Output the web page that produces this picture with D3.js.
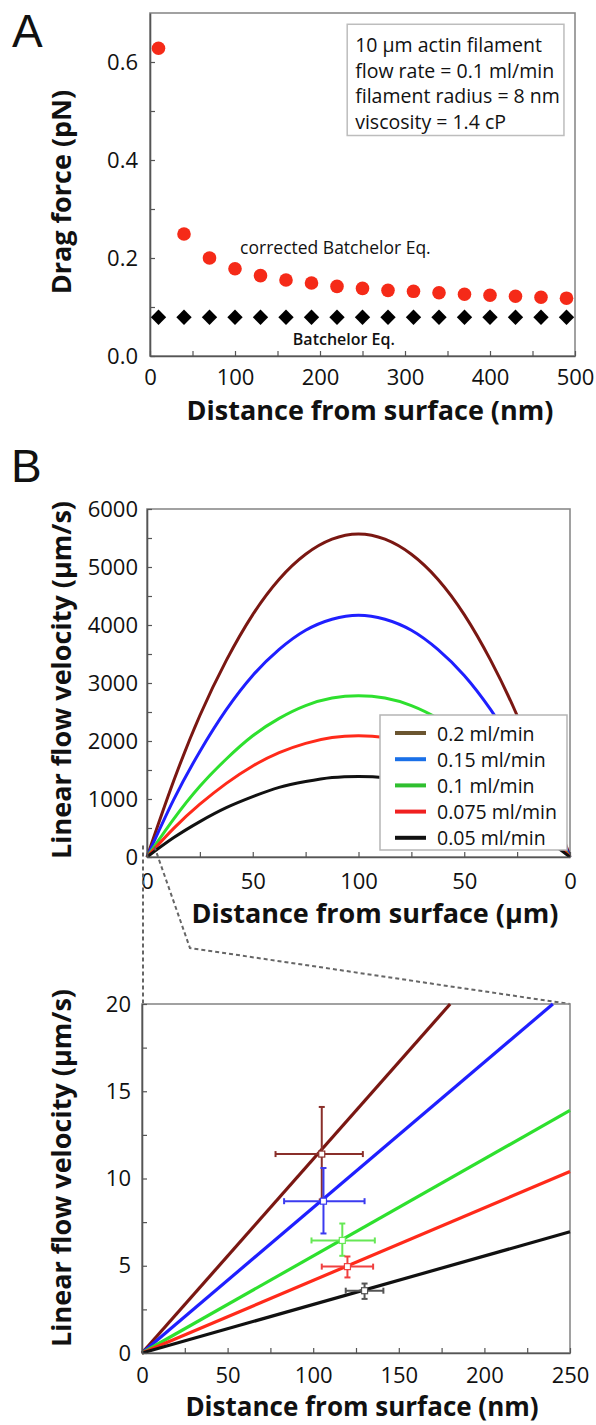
<!DOCTYPE html>
<html>
<head>
<meta charset="utf-8">
<script src="https://cdn.jsdelivr.net/npm/d3@7"></script>
<style>
  body { margin: 0; background: #fff; }
  svg text { font-family: "Open Sans", "Noto Sans", sans-serif; fill: #111; }
</style>
</head>
<body>
<div id="chart"></div>
<script>
// ---- Panel A data : drag force vs distance
const distA = [10, 40, 70, 100, 130, 160, 190, 220, 250, 280, 310, 340, 370, 400, 430, 460, 490];
const dragCorrected = [0.628, 0.249, 0.200, 0.178, 0.164, 0.155, 0.149, 0.142, 0.138, 0.134, 0.132, 0.129, 0.126, 0.124, 0.122, 0.120, 0.118];
const dragBatchelor = [0.079, 0.079, 0.079, 0.079, 0.079, 0.079, 0.079, 0.079, 0.079, 0.079, 0.079, 0.079, 0.079, 0.079, 0.079, 0.079, 0.079];
const infoLines = ["10 µm actin filament", "flow rate = 0.1 ml/min", "filament radius = 8 nm", "viscosity = 1.4 cP"];

// ---- Panel B (top) : velocity profiles across the channel
const flowLabels = ["0.2 ml/min", "0.15 ml/min", "0.1 ml/min", "0.075 ml/min", "0.05 ml/min"];
const channelPos = [0, 12.5, 25, 37.5, 50, 62.5, 75, 87.5, 100, 112.5, 125, 137.5, 150, 162.5, 175, 187.5, 200];
const profiles = [
  [0, 1300, 2440, 3390, 4180, 4790, 5220, 5480, 5570, 5480, 5220, 4790, 4180, 3390, 2440, 1300, 0],
  [0, 980, 1820, 2540, 3130, 3580, 3910, 4100, 4170, 4100, 3910, 3580, 3130, 2540, 1820, 980, 0],
  [0, 650, 1220, 1690, 2090, 2390, 2610, 2740, 2780, 2740, 2610, 2390, 2090, 1690, 1220, 650, 0],
  [0, 490, 910, 1270, 1570, 1800, 1960, 2060, 2090, 2060, 1960, 1800, 1570, 1270, 910, 490, 0],
  [0, 330, 610, 850, 1040, 1200, 1300, 1370, 1390, 1370, 1300, 1200, 1040, 850, 610, 330, 0]
];
const channelTicks = [0, 50, 100, 150, 200];
const channelTickLabels = ["0", "50", "100", "50", "0"];

// ---- Panel B (bottom) : near-wall zoom, lines and measured points
const nearX = [[0, 180], [0, 240], [0, 250], [0, 250], [0, 250]];
const nearV = [[0, 20], [0, 20], [0, 13.9], [0, 10.4], [0, 6.95]];
const measX = [105, 106, 117, 120, 130];
const measV = [11.4, 8.7, 6.45, 4.95, 3.57];
const measXlo = [78, 83, 99, 105, 119];
const measXhi = [129, 130, 136, 135, 141];
const measVlo = [8.8, 6.85, 5.57, 4.33, 3.1];
const measVhi = [14.1, 10.6, 7.42, 5.53, 3.98];

const lineColors = ["#7a1712", "#1f1fff", "#2ee02e", "#ff2a1a", "#111111"];
const legendColors = ["#6b5530", "#1a70e8", "#2fbf2f", "#f02020", "#111111"];
const barColors = ["#8a2f2a", "#3b3bf0", "#66e855", "#f04040", "#555555"];

const W = 596, H = 1425;
const svg = d3.select("#chart").append("svg")
  .attr("width", W).attr("height", H);

const axisColor = "#555";
const frameColor = "#8a8a8a";

function styleAxis(g, fontSize) {
  g.attr("font-family", null);
  g.select(".domain").attr("stroke", axisColor).attr("stroke-width", 1.6);
  g.selectAll(".tick line").attr("stroke", axisColor).attr("stroke-width", 1.2);
  g.selectAll(".tick text").style("font-size", fontSize + "px").attr("fill", "#111");
}

function frame(x, y) {
  svg.append("rect")
    .attr("x", x.range()[0]).attr("y", y.range()[1])
    .attr("width", x.range()[1] - x.range()[0])
    .attr("height", y.range()[0] - y.range()[1])
    .attr("fill", "none").attr("stroke", frameColor).attr("stroke-width", 1.6);
}

function yTitle(text, cx, cy) {
  svg.append("text")
    .attr("transform", `translate(${cx},${cy}) rotate(-90)`)
    .attr("text-anchor", "middle")
    .attr("dominant-baseline", "central")
    .style("font-size", "27px").style("font-weight", 700)
    .text(text);
}
function xTitle(text, cx, cy, size) {
  svg.append("text")
    .attr("x", cx).attr("y", cy)
    .attr("text-anchor", "middle")
    .attr("dominant-baseline", "central")
    .style("font-size", (size || 27) + "px").style("font-weight", 700)
    .text(text);
}

// ================= Panel A =================
const xA = d3.scaleLinear().domain([0, 500]).range([150, 575]);
const yA = d3.scaleLinear().domain([0, 0.7]).range([356, 13]);

frame(xA, yA);

svg.append("g")
  .attr("transform", `translate(0,${yA(0)})`)
  .call(d3.axisBottom(xA).tickValues(d3.range(0, 501, 50))
    .tickFormat(d => d % 100 === 0 ? d : "")
    .tickSize(-5).tickSizeOuter(0).tickPadding(13))
  .call(g => styleAxis(g, 22));

svg.append("g")
  .attr("transform", `translate(${xA(0)},0)`)
  .call(d3.axisLeft(yA).tickValues([0, 0.1, 0.2, 0.3, 0.4, 0.5, 0.6])
    .tickFormat(d => Math.round(d * 10) % 2 === 0 ? d3.format(".1f")(d) : "")
    .tickSize(-5).tickSizeOuter(0).tickPadding(12))
  .call(g => styleAxis(g, 22));

// info box
const infoX = xA(232), infoY = yA(0.677);
svg.append("rect")
  .attr("x", infoX).attr("y", infoY)
  .attr("width", xA(487) - infoX).attr("height", yA(0.45) - infoY)
  .attr("fill", "#fff").attr("stroke", "#bdbdbd").attr("stroke-width", 1.5);
svg.append("g").selectAll("text").data(infoLines).join("text")
  .attr("x", infoX + 8)
  .attr("y", (d, i) => infoY + 20 + i * 25.8)
  .attr("dominant-baseline", "central")
  .style("font-size", "19.5px")
  .text(d => d);

// Batchelor diamonds
svg.append("g").selectAll("path").data(distA).join("path")
  .attr("transform", (d, i) => `translate(${xA(d)},${yA(dragBatchelor[i])})`)
  .attr("d", d3.symbol(d3.symbolDiamond2, 150))
  .attr("fill", "#000");

// corrected points
svg.append("g").selectAll("circle").data(distA).join("circle")
  .attr("cx", d => xA(d))
  .attr("cy", (d, i) => yA(dragCorrected[i]))
  .attr("r", 6.8)
  .attr("fill", "#f52a18");

svg.append("text")
  .attr("x", xA(106)).attr("y", yA(0.223))
  .attr("dominant-baseline", "central")
  .style("font-size", "17.5px")
  .text("corrected Batchelor Eq.");
svg.append("text")
  .attr("x", xA(168)).attr("y", yA(0.034))
  .attr("dominant-baseline", "central")
  .style("font-size", "16px")
  .style("font-weight", 600).attr("fill", "#222")
  .text("Batchelor Eq.");

yTitle("Drag force (pN)", 60, 192);
xTitle("Distance from surface (nm)", 370, 409);

svg.append("text").attr("x", 12).attr("y", 47)
  .style("font-family", "'Liberation Sans', Arial, sans-serif")
  .style("font-size", "46px").text("A");

// ================= Panel B top =================
const xB = d3.scaleLinear().domain([0, 200]).range([147, 570]);
const yB = d3.scaleLinear().domain([0, 6000]).range([857, 509]);

frame(xB, yB);

const profileLine = d3.line()
  .x((d, i) => xB(channelPos[i]))
  .y(d => yB(d))
  .curve(d3.curveNatural);

svg.append("g").selectAll("path").data(profiles).join("path")
  .attr("d", profileLine)
  .attr("fill", "none")
  .attr("stroke", (d, i) => lineColors[i])
  .attr("stroke-width", 3);

svg.append("g")
  .attr("transform", `translate(0,${yB(0)})`)
  .call(d3.axisBottom(xB).tickValues(d3.range(0, 201, 25))
    .tickFormat(d => {
      const k = channelTicks.indexOf(d);
      return k >= 0 ? channelTickLabels[k] : "";
    })
    .tickSize(-5).tickSizeOuter(0).tickPadding(16))
  .call(g => styleAxis(g, 22));

svg.append("g")
  .attr("transform", `translate(${xB(0)},0)`)
  .call(d3.axisLeft(yB).tickValues(d3.range(0, 6001, 500))
    .tickFormat(d => d % 1000 === 0 ? d : "")
    .tickSize(-5).tickSizeOuter(0).tickPadding(9))
  .call(g => styleAxis(g, 22));

// legend
const legX = 380, legY = 715, legW = 187, legH = 135;
svg.append("rect")
  .attr("x", legX).attr("y", legY).attr("width", legW).attr("height", legH)
  .attr("fill", "#fff").attr("stroke", "#b5b5b5").attr("stroke-width", 1.5);
const leg = svg.append("g").selectAll("g").data(flowLabels).join("g")
  .attr("transform", (d, i) => `translate(${legX},${legY + 18 + i * 26.2})`);
leg.append("line")
  .attr("x1", 15).attr("x2", 46)
  .attr("stroke", (d, i) => legendColors[i]).attr("stroke-width", 4);
leg.append("text")
  .attr("x", 57).attr("dominant-baseline", "central")
  .style("font-size", "19.5px")
  .text(d => d);

yTitle("Linear flow velocity (µm/s)", 60, 680);
xTitle("Distance from surface (µm)", 375, 912);

svg.append("text").attr("x", 11).attr("y", 482)
  .style("font-family", "'Liberation Sans', Arial, sans-serif")
  .style("font-size", "46px").text("B");

// ================= Panel B bottom =================
const xC = d3.scaleLinear().domain([0, 250]).range([142, 570]);
const yC = d3.scaleLinear().domain([0, 20]).range([1353, 1004]);

// dashed connectors from the top plot origin to the zoomed plot
const conn = svg.append("g")
  .attr("fill", "none").attr("stroke", "#666")
  .attr("stroke-width", 2).attr("stroke-dasharray", "4,3");
conn.append("line")
  .attr("x1", xC(0) + 1).attr("y1", yB(200))
  .attr("x2", xC(0) + 1).attr("y2", yC(20));
conn.append("path")
  .attr("d", d3.line()([[xB(3.5), yB(180)], [xC(28), 948], [xC(250), yC(20)]]));

frame(xC, yC);

svg.append("g").selectAll("line").data(nearX).join("line")
  .attr("x1", d => xC(d[0])).attr("x2", d => xC(d[1]))
  .attr("y1", (d, i) => yC(nearV[i][0])).attr("y2", (d, i) => yC(nearV[i][1]))
  .attr("stroke", (d, i) => lineColors[i]).attr("stroke-width", 3.2);

// error bars
const eb = svg.append("g").selectAll("g").data(measX).join("g")
  .attr("stroke", (d, i) => barColors[i]).attr("stroke-width", 2).attr("fill", "none");
eb.append("line")
  .attr("x1", (d, i) => xC(measXlo[i])).attr("x2", (d, i) => xC(measXhi[i]))
  .attr("y1", (d, i) => yC(measV[i])).attr("y2", (d, i) => yC(measV[i]));
eb.append("line")
  .attr("x1", d => xC(d)).attr("x2", d => xC(d))
  .attr("y1", (d, i) => yC(measVlo[i])).attr("y2", (d, i) => yC(measVhi[i]));
// caps
eb.each(function (d, i) {
  const g = d3.select(this);
  [measXlo[i], measXhi[i]].forEach(v => g.append("line")
    .attr("x1", xC(v)).attr("x2", xC(v))
    .attr("y1", yC(measV[i]) - 3).attr("y2", yC(measV[i]) + 3));
  [measVlo[i], measVhi[i]].forEach(v => g.append("line")
    .attr("x1", xC(d) - 3).attr("x2", xC(d) + 3)
    .attr("y1", yC(v)).attr("y2", yC(v)));
});
eb.append("rect")
  .attr("x", d => xC(d) - 3).attr("y", (d, i) => yC(measV[i]) - 3)
  .attr("width", 6).attr("height", 6)
  .attr("fill", "#fff").attr("stroke-width", 1.2);

svg.append("g")
  .attr("transform", `translate(0,${yC(0)})`)
  .call(d3.axisBottom(xC).tickValues(d3.range(0, 251, 25))
    .tickFormat(d => d % 50 === 0 ? d : "")
    .tickSize(-5).tickSizeOuter(0).tickPadding(14))
  .call(g => styleAxis(g, 22));

svg.append("g")
  .attr("transform", `translate(${xC(0)},0)`)
  .call(d3.axisLeft(yC).tickValues(d3.range(0, 20.1, 2.5))
    .tickFormat(d => d % 5 === 0 ? d : "")
    .tickSize(-5).tickSizeOuter(0).tickPadding(11))
  .call(g => styleAxis(g, 22));

yTitle("Linear flow velocity (µm/s)", 60, 1168);
xTitle("Distance from surface (nm)", 362, 1406, 26);
</script>
</body>
</html>
